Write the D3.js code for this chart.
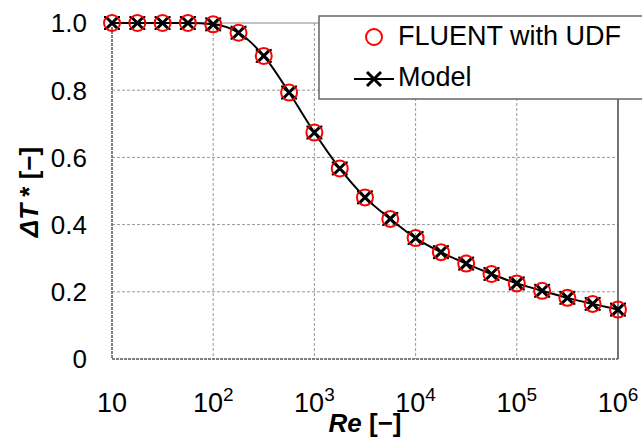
<!DOCTYPE html>
<html>
<head>
<meta charset="utf-8">
<script src="https://cdn.jsdelivr.net/npm/d3@7"></script>
<style>
  body { margin: 0; background: #fff; }
  text { font-family: "Liberation Sans", Arial, sans-serif; fill: #000; }
</style>
</head>
<body>
<svg id="chart" width="642" height="448"></svg>
<script>
// Re values (quarter-decade steps)
const reValues = [10, 17.8, 31.6, 56.2, 100, 178, 316, 562, 1000, 1780, 3160, 5620,
  10000, 17800, 31600, 56200, 100000, 178000, 316000, 562000, 1000000];
// FLUENT with UDF results
const fluentValues = [1.0, 1.0, 1.0, 1.0, 0.996, 0.971, 0.902, 0.793, 0.674, 0.567, 0.481,
  0.417, 0.360, 0.318, 0.284, 0.253, 0.225, 0.203, 0.182, 0.164, 0.147];
// model curve
const modelValues = [1.0, 1.0, 1.0, 1.0, 0.996, 0.971, 0.902, 0.793, 0.674, 0.567, 0.481,
  0.417, 0.360, 0.318, 0.284, 0.253, 0.225, 0.203, 0.182, 0.164, 0.147];
const xTicks = [10, 100, 1000, 10000, 100000, 1000000];
const xTickExp = ["", "2", "3", "4", "5", "6"];
const yTicks = [0, 0.2, 0.4, 0.6, 0.8, 1.0];
const yTickLabels = ["0", "0.2", "0.4", "0.6", "0.8", "1.0"];
const seriesNames = ["FLUENT with UDF", "Model"];

const svg = d3.select("#chart");
const pLeft = 112, pRight = 618, pTop = 23, pBottom = 359;

const x = d3.scaleLog().domain([10, 1e6]).range([pLeft, pRight]);
const y = d3.scaleLinear().domain([0, 1]).range([pBottom, pTop]);

// grid
const grid = svg.append("g");
grid.selectAll(".vg")
  .data(xTicks.slice(1, -1))
  .enter().append("line")
  .attr("x1", d => x(d)).attr("x2", d => x(d))
  .attr("y1", pTop).attr("y2", pBottom)
  .attr("stroke", "#999").attr("stroke-width", 1)
  .attr("stroke-dasharray", "3,2");
grid.selectAll(".hg")
  .data(yTicks.slice(1, -1))
  .enter().append("line")
  .attr("x1", pLeft).attr("x2", pRight)
  .attr("y1", d => y(d)).attr("y2", d => y(d))
  .attr("stroke", "#999").attr("stroke-width", 1)
  .attr("stroke-dasharray", "3,2");

// frame
svg.append("line").attr("x1", pLeft).attr("x2", pRight).attr("y1", pTop).attr("y2", pTop)
  .attr("stroke", "#888").attr("stroke-width", 1);
svg.append("line").attr("x1", pRight).attr("x2", pRight).attr("y1", pTop).attr("y2", pBottom)
  .attr("stroke", "#444").attr("stroke-width", 1.5);
svg.append("line").attr("x1", pLeft).attr("x2", pLeft).attr("y1", pTop).attr("y2", pBottom)
  .attr("stroke", "#555").attr("stroke-width", 1.5).attr("stroke-dasharray", "3,1");
svg.append("line").attr("x1", pLeft).attr("x2", pRight).attr("y1", pBottom).attr("y2", pBottom)
  .attr("stroke", "#555").attr("stroke-width", 1.5).attr("stroke-dasharray", "3,1");

// y tick labels
svg.append("g").selectAll("text")
  .data(yTicks)
  .enter().append("text")
  .attr("x", 87)
  .attr("y", d => y(d))
  .attr("dy", "0.36em")
  .attr("text-anchor", "end")
  .style("font-size", "26px")
  .text((d, i) => yTickLabels[i]);

// x tick labels
const xl = svg.append("g").selectAll("text")
  .data(xTicks)
  .enter().append("text")
  .attr("x", d => x(d))
  .attr("y", 412)
  .attr("text-anchor", "middle")
  .style("font-size", "27px");
xl.append("tspan").text("10");
xl.append("tspan")
  .attr("dy", -11)
  .style("font-size", "19px")
  .text((d, i) => xTickExp[i]);

// axis titles
const xt = svg.append("text")
  .attr("x", (pLeft + pRight) / 2).attr("y", 432)
  .attr("text-anchor", "middle")
  .style("font-size", "26px").style("font-weight", "bold");
xt.append("tspan").style("font-style", "italic").text("Re");
xt.append("tspan").text(" [\u2212]");

const yt = svg.append("text")
  .attr("transform", "translate(38,192) rotate(-90)")
  .attr("text-anchor", "middle")
  .style("font-size", "26px").style("font-weight", "bold");
yt.append("tspan").style("font-style", "italic").text("\u0394T");
yt.append("tspan").text(" * [\u2212]");

// model line
const line = d3.line()
  .x((d, i) => x(reValues[i]))
  .y(d => y(d))
  .curve(d3.curveMonotoneX);
svg.append("path")
  .datum(modelValues)
  .attr("d", line)
  .attr("fill", "none")
  .attr("stroke", "#000")
  .attr("stroke-width", 2);

// fluent circles
svg.append("g").selectAll("circle")
  .data(fluentValues)
  .enter().append("circle")
  .attr("cx", (d, i) => x(reValues[i]))
  .attr("cy", d => y(d))
  .attr("r", 8)
  .attr("fill", "none")
  .attr("stroke", "#ff0000")
  .attr("stroke-width", 2);

// model x markers
const drawCross = (g, cx, cy, s) => {
  g.append("path")
    .attr("d", `M${cx - s},${cy - s}L${cx + s},${cy + s}M${cx - s},${cy + s}L${cx + s},${cy - s}`)
    .attr("stroke", "#000").attr("stroke-width", 3).attr("fill", "none");
};
const crosses = svg.append("g");
modelValues.forEach((d, i) => {
  const cx = x(reValues[i]), cy = y(d);
  drawCross(crosses, cx, cy, 5);
  [[-7, -6], [7, -6], [-7, 6], [7, 6]].forEach(o => {
    crosses.append("rect")
      .attr("x", cx + o[0] - 1).attr("y", cy + o[1] - 1)
      .attr("width", 2).attr("height", 2).attr("fill", "#000");
  });
});

// legend
const lg = svg.append("g");
lg.append("rect")
  .attr("x", 319).attr("y", 16).attr("width", 340).attr("height", 83)
  .attr("fill", "#fff").attr("stroke", "#666").attr("stroke-width", 1.5);
lg.append("circle")
  .attr("cx", 374).attr("cy", 37).attr("r", 8)
  .attr("fill", "none").attr("stroke", "#ff0000").attr("stroke-width", 2);
lg.append("line")
  .attr("x1", 354).attr("x2", 394).attr("y1", 79).attr("y2", 79)
  .attr("stroke", "#000").attr("stroke-width", 2);
drawCross(lg, 374, 79, 7);
lg.selectAll(".lt")
  .data(seriesNames)
  .enter().append("text")
  .attr("x", 398)
  .attr("y", (d, i) => i === 0 ? 45 : 86)
  .style("font-size", "27px")
  .text(d => d);
</script>
</body>
</html>
